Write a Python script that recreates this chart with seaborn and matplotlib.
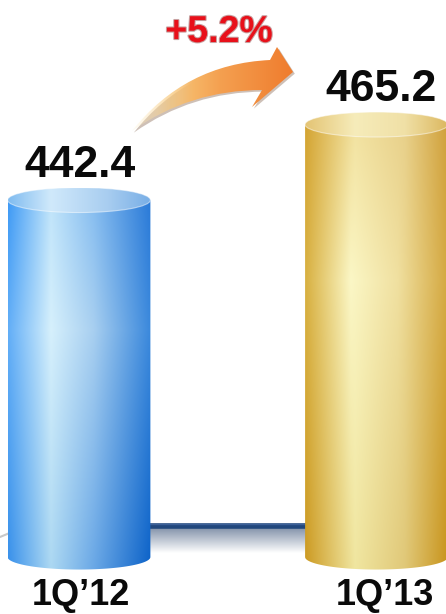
import numpy as np
import matplotlib
matplotlib.use("Agg")
import matplotlib.pyplot as plt
import seaborn as sns
import pandas as pd
from matplotlib.path import Path
from matplotlib.patches import PathPatch, Ellipse
from matplotlib.colors import to_rgb
import matplotlib.patheffects as pe

# ---------------- data ----------------
categories = ["1Q’12", "1Q’13"]
values = [442.4, 465.2]
value_labels = ["442.4", "465.2"]
growth_label = "+5.2%"
axis_base = 334.6          # value where the cylinders start (axis does not start at 0)

# ---------------- style ----------------
sns.set_theme(style="white")
plt.rcParams['font.family'] = ['Liberation Sans', 'DejaVu Sans']

W, H = 446, 614
fig = plt.figure(figsize=(W / 100, H / 100), dpi=100)
ax = fig.add_axes([0, 0, 1, 1])

df = pd.DataFrame({"quarter": categories, "value": values})
sns.barplot(data=df, x="quarter", y="value", width=0.48, errorbar=None, ax=ax,
            color="#4a9cf0")
for p in ax.patches:
    p.set_alpha(0)

XL = (-0.2655, 1.2336)
YL = (317.4, 502.8)
ax.set_xlim(*XL)
ax.set_ylim(*YL)
ax.axis("off")


def px2d(px, py):
    x = XL[0] + px / W * (XL[1] - XL[0])
    y = YL[1] - py / H * (YL[1] - YL[0])
    return x, y


def profile(stops, n=256):
    pos = np.array([s[0] for s in stops])
    cols = np.array([to_rgb(s[1]) for s in stops])
    xs = np.linspace(0, 1, n)
    return np.stack([np.interp(xs, pos, cols[:, k]) for k in range(3)], axis=1)


def body_image(top_p, mid_p, bot_p, ny=200, tmid=0.35):
    ts = np.linspace(0, 1, ny)
    rows = []
    for t in ts:
        if t < tmid:
            a = t / tmid
            rows.append((1 - a) * top_p + a * mid_p)
        else:
            a = (t - tmid) / (1 - tmid)
            rows.append((1 - a) * mid_p + a * bot_p)
    return np.clip(np.array(rows), 0, 1)


eh = 12.5 / (H / (YL[1] - YL[0]))   # ellipse half-height in data units

styles = [
    dict(
        top=profile([(0, "#3f9af5"), (0.3, "#c0e4fa"), (0.6, "#86bdf0"), (1, "#2a7ad8")]),
        mid=profile([(0, "#62aef7"), (0.3, "#d6f0fc"), (0.6, "#a8cff0"), (1, "#3a88dc")]),
        bot=profile([(0, "#3890ea"), (0.3, "#acd8f2"), (0.6, "#6aa8e6"), (1, "#0c62c8")]),
        cap=profile([(0, "#80bcf0"), (0.3, "#d0e9fb"), (0.7, "#a8cdf0"), (1, "#78aee6")]),
    ),
    dict(
        top=profile([(0, "#d4a432"), (0.35, "#f2e2a0"), (0.7, "#e8d08a"), (1, "#d0a03a")]),
        mid=profile([(0, "#d8b040"), (0.32, "#fbf7c6"), (0.65, "#f0e0a0"), (1, "#d4a840")]),
        bot=profile([(0, "#cc9a22"), (0.35, "#f0e6a0"), (0.7, "#e0c878"), (1, "#c8941c")]),
        cap=profile([(0, "#e4c474"), (0.35, "#f6ecba"), (0.7, "#f0e0a6"), (1, "#dcb860")]),
    ),
]

# ---------------- floor line & shadow (behind bars) ----------------
fx0, fy0 = px2d(140, 527)
fx1, fy1 = px2d(315, 553)
shade = np.linspace(0, 1, 100)[:, None]
c_top = np.array(to_rgb("#8090a8"))
shadow = (1 - shade)[..., None] * c_top + shade[..., None] * np.ones(3)
shadow = np.repeat(shadow, 2, axis=1)
ax.imshow(shadow, extent=[fx0, fx1, fy1, fy0], origin="upper", aspect="auto",
          interpolation="bilinear", zorder=1)
lx0, ly = px2d(140, 526)
lx1, _ = px2d(315, 526)
ax.plot([lx0, lx1], [ly, ly], color="#21477c", lw=4.0, zorder=1.5, solid_capstyle="butt")
ax.plot([lx0, lx1], [ly + 0.6, ly + 0.6], color="#3c6098", lw=1.0, zorder=1.6)
a0 = px2d(0, 537)
a1 = px2d(12, 532)
ax.plot([a0[0], a1[0]], [a0[1], a1[1]], color="#c8c8c8", lw=1.5, zorder=1.5)

# ---------------- cylinders ----------------
for p, val, st in zip(ax.patches, values, styles):
    x0 = p.get_x()
    w = p.get_width()
    x1 = x0 + w
    xc = x0 + w / 2
    top = p.get_height()
    base = axis_base

    th = np.linspace(np.pi, 2 * np.pi, 60)
    verts = [(x0, top), (x0, base)]
    verts += [(xc + w / 2 * np.cos(t), base + eh * np.sin(t)) for t in th]
    verts += [(x1, top), (x0, top)]
    codes = [Path.MOVETO] + [Path.LINETO] * (len(verts) - 2) + [Path.CLOSEPOLY]
    clip = PathPatch(Path(verts, codes), facecolor="none", edgecolor="none")
    ax.add_patch(clip)
    img = body_image(st["top"], st["mid"], st["bot"])
    im = ax.imshow(img, extent=[x0, x1, base - eh, top], origin="upper",
                   aspect="auto", interpolation="bilinear", zorder=2)
    im.set_clip_path(clip)

    cap = Ellipse((xc, top), width=w, height=2 * eh, facecolor="none",
                  edgecolor=(1, 1, 1, 0.5), lw=0.8, zorder=3.5)
    ax.add_patch(cap)
    cimg = np.repeat(st["cap"][None, :, :], 20, axis=0)
    cim = ax.imshow(cimg, extent=[x0, x1, top - eh, top + eh], origin="upper",
                    aspect="auto", interpolation="bilinear", zorder=3)
    cim.set_clip_path(cap)

# ---------------- value labels ----------------
lab_off = 7.1
for i, (val, lab) in enumerate(zip(values, value_labels)):
    ax.text(i + 0.005 * (1 + 2 * i), val + lab_off, lab, ha="center", va="baseline",
            fontsize=32, fontweight="bold", color="#0a0a0a", zorder=5)

# category labels
cat_y = px2d(0, 613)[1]
for i, c in enumerate(categories):
    ax.text(i + 0.007 + 0.021 * i, cat_y, c, ha="center", va="bottom",
            fontsize=26, fontweight="bold", color="#0a0a0a", zorder=5)

# ---------------- growth arrow ----------------
def P(x, y):
    return px2d(x, y)

arrow_pts = [
    (P(132, 131), Path.MOVETO),
    (P(185, 64), Path.CURVE3), (P(270, 60), Path.CURVE3),
    (P(277, 47), Path.LINETO),
    (P(293, 72), Path.LINETO),
    (P(252, 107), Path.LINETO),
    (P(262, 90), Path.LINETO),
    (P(190, 90), Path.CURVE3), (P(132, 131), Path.CURVE3),
    (P(132, 131), Path.CLOSEPOLY),
]
av = [v for v, c in arrow_pts]
ac = [c for v, c in arrow_pts]
arrow_path = Path(av, ac)

# soft shadow
sh_pts = [(x + 0.006, y - 0.5) for x, y in av]
shp = PathPatch(Path(sh_pts, ac), facecolor=(0.45, 0.3, 0.2, 0.35), edgecolor="none", zorder=3.8)
ax.add_patch(shp)

aclip = PathPatch(arrow_path, facecolor="none", edgecolor="none")
ax.add_patch(aclip)
gx = np.linspace(0, 1, 256)
acol = profile([(0, "#fff4d0"), (0.25, "#f8c87a"), (0.55, "#f4a050"), (1, "#ef7a2c")])
alpha = np.clip(0.15 + gx * 2.2, 0, 1)
aimg = np.concatenate([acol, alpha[:, None]], axis=1)[None, :, :]
aimg = np.repeat(aimg, 2, axis=0)
bx0, by0 = P(128, 135)
bx1, by1 = P(295, 44)
aim = ax.imshow(aimg, extent=[bx0, bx1, by0, by1], origin="upper", aspect="auto",
                interpolation="bilinear", zorder=4)
aim.set_clip_path(aclip)

gx_, gy_ = P(219, 42)
ax.text(gx_, gy_, growth_label, ha="center", va="baseline", fontsize=27,
        fontweight="bold", color="#e8101a", zorder=6,
        path_effects=[pe.withStroke(linewidth=1.5, foreground="#c8a0a0")])

fig.savefig("out.png", dpi=100)
